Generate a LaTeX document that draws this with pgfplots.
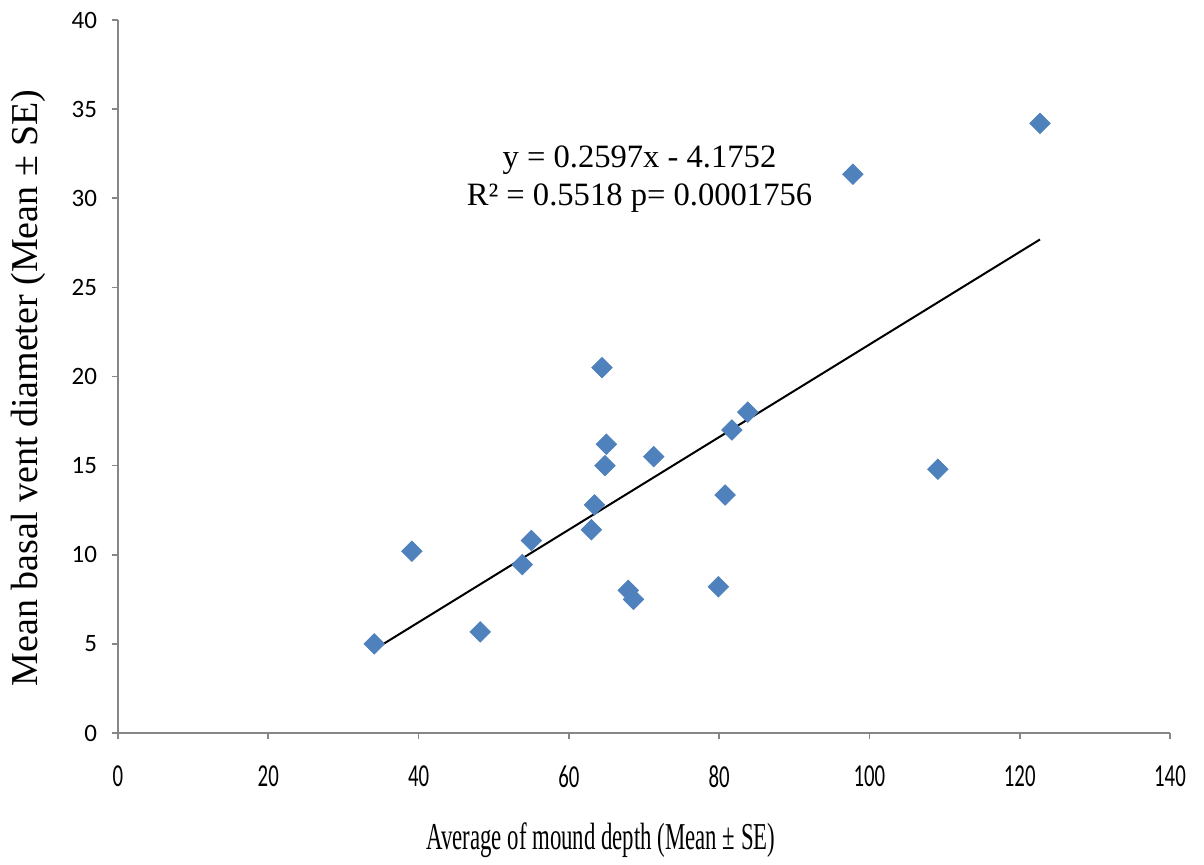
\documentclass[border=0pt]{standalone}
\usepackage{pgfplots}
\pgfplotsset{compat=1.18}
\usepackage{fontspec}
\setmainfont{Liberation Serif}
\newfontfamily\tickfont{Carlito}
\newfontfamily\tickfontx[FakeStretch=0.65]{Carlito}
\newfontfamily\condserif[FakeStretch=0.6]{Liberation Serif}
\definecolor{markblue}{HTML}{4F81BD}
\definecolor{axgray}{HTML}{868686}
\begin{document}
\begin{tikzpicture}
\useasboundingbox (-59pt,-422pt) rectangle (543pt,10pt);
\begin{axis}[
  at={(0,0)}, anchor=north west,
  scale only axis,
  width=526pt, height=356.5pt,
  xmin=0, xmax=140, ymin=0, ymax=40,
  xtick={0,20,...,140}, ytick={0,5,...,40},
  axis x line=bottom, axis y line=left,
  axis line style={axgray, line width=0.8pt, -},
  tick style={axgray, line width=0.8pt},
  tick align=outside, major tick length=3pt,
  x tick label style={font=\tickfontx\fontsize{16}{18}\selectfont, yshift=-10pt},
  y tick label style={font=\tickfont\fontsize{12.5}{14}\selectfont, xshift=-4pt},
  /pgf/number format/assume math mode=true,
  xlabel={\condserif\fontsize{19}{22}\selectfont Average of mound depth (Mean ± SE)},
  ylabel={\fontsize{19}{22}\selectfont Mean basal vent diameter (Mean ± SE)},
  xlabel style={at={(axis description cs:0.459,0)}, anchor=center, yshift=-53.5pt},
  ylabel style={at={(axis description cs:0,0.484)}, anchor=center, yshift=45pt},
  clip=false,
]
\addplot[only marks, mark=square*, mark size=3.6pt, mark options={rotate=45, fill=markblue, draw=markblue}]
  table {
x y
34.1 5.0
39.1 10.2
48.2 5.67
53.8 9.45
55.0 10.8
63.0 11.4
63.4 12.8
64.4 20.5
64.8 15.0
65.0 16.2
71.3 15.5
67.9 8.0
68.6 7.5
79.9 8.2
80.8 13.35
81.7 17.0
83.8 18.0
97.8 31.35
109.1 14.8
122.7 34.2
};
\addplot[black, line width=1pt] coordinates {(34.1,4.68) (122.7,27.69)};
\node[align=center, font=\fontsize{16.3}{19}\selectfont] at (axis cs:69.4,31.1)
  {y = 0.2597x - 4.1752\\R² = 0.5518 p= 0.0001756};
\end{axis}
\end{tikzpicture}
\end{document}
